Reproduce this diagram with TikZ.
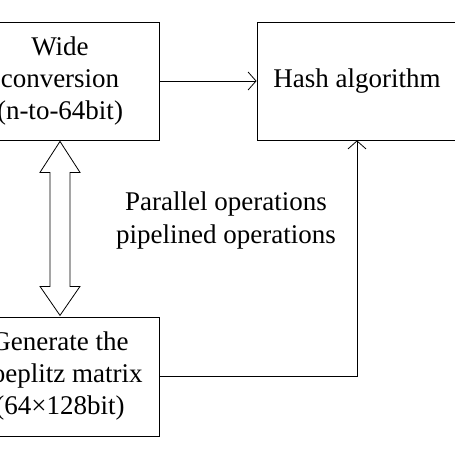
\documentclass[tikz,border=0pt]{standalone}
\usepackage{fontspec}
\setmainfont{Liberation Serif}
\usetikzlibrary{arrows.meta}
\usetikzlibrary{calc}

\begin{document}
\begin{tikzpicture}[x=1pt,y=-1pt]
        \tikzset{line/.style={line width=0.8pt}};
        \tikzset{block/.style={draw, line width=0.8pt, minimum width=198pt, minimum height=118pt, inner sep=0pt, align=center, font=\fontsize{27}{32}\selectfont}};
        \tikzset{barb/.style={-{Straight Barb[length=8pt,width=18pt]}}};

        \useasboundingbox (0,0) rectangle (455,455);
        \clip (0,0) rectangle (455,455);

        \node[block] (wide) at (60,81) {Wide\\conversion\\(n-to-64bit)};
        \node[block, minimum width=200pt] (hash) at (357,81) {Hash algorithm};
        \node[block, minimum height=119pt] (toep) at (60,376.5) {Generate the\\Toeplitz matrix\\(64×128bit)};

        \node[align=center, font=\fontsize{27}{33}\selectfont] (ops) at (226,221) {Parallel operations\\pipelined operations};

        \draw[line, barb] (wide) -- (hash);
        \draw[line, barb] (toep.east) -| (hash.south);

        % double arrow between the two left blocks
        \draw[line, fill=white] ($(wide.south)+(0,1)$) -- ++(20,31) -- ++(-10,0) -- ++(0,114)
            -- ++(10,0) -- ++(-20,29) -- ++(-20,-29) -- ++(10,0) -- ++(0,-114) -- ++(-10,0) -- cycle;
    \end{tikzpicture}
\end{document}
